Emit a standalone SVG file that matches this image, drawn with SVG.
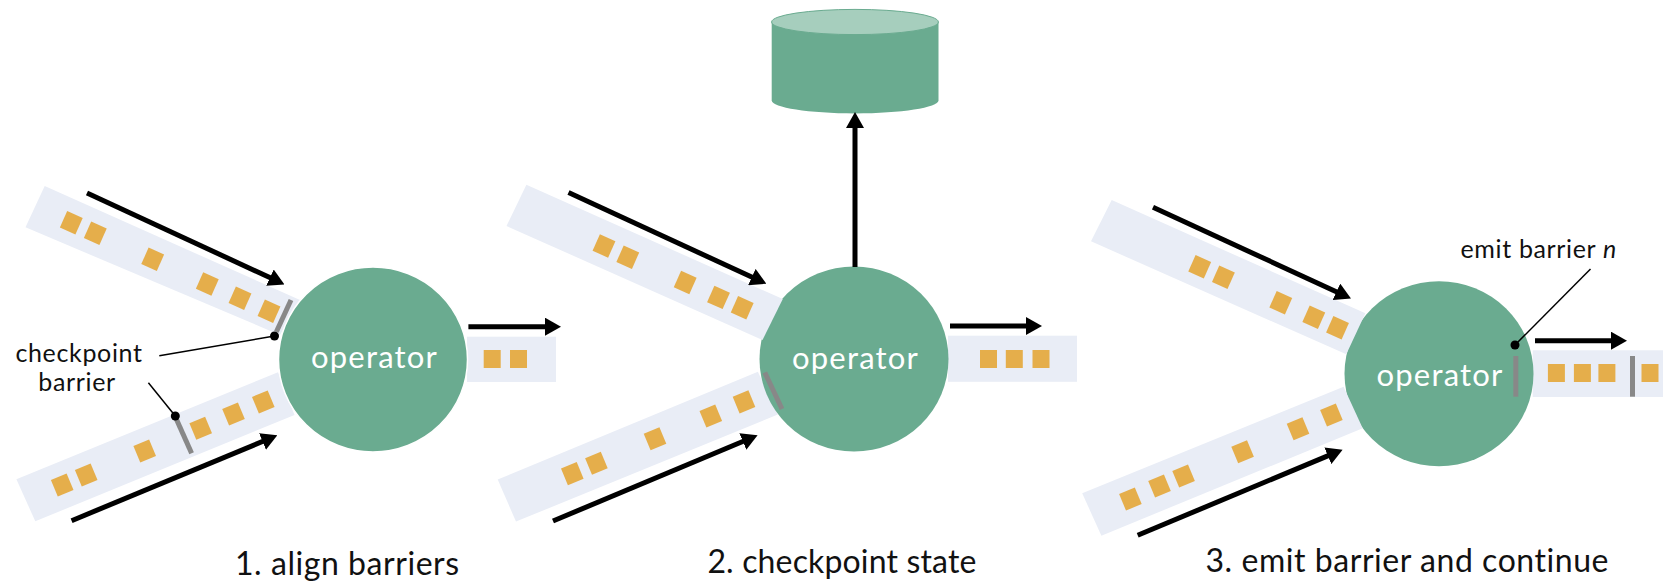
<svg xmlns="http://www.w3.org/2000/svg" width="1665" height="581" viewBox="0 0 1665 581">
<style>
text{font-family:Lato,"Open Sans","Liberation Sans",sans-serif;fill:#111}
.band{fill:#e9edf6}
.sq{fill:#e5ae4b}
.op{fill:#6aab90}
.halo{stroke:#fff;stroke-width:1.5}
text.optext{fill:#fff;font-size:31px;letter-spacing:1.2px;text-anchor:middle}
.title{font-size:32px;letter-spacing:.55px}
.note{font-size:25px;letter-spacing:.65px}
.bar{stroke:#888;stroke-width:5;fill:none}
.lead{stroke:#000;stroke-width:1.5;fill:none}
.arrow{stroke:#000;stroke-width:5;fill:none;marker-end:url(#head)}
</style>
<defs>
<marker id="head" markerUnits="userSpaceOnUse" markerWidth="16" markerHeight="18" refX="7" refY="9" orient="auto"><path d="M0 0L16 9L0 18z" fill="#000"/></marker>
<rect id="s" class="sq" x="-8.5" y="-9" width="17" height="18"/>
</defs>
<g id="streams-under">
<polygon class="band" points="44.7,186 300,300 280,335 25.5,227.3"/>
<polygon class="band" points="16.4,479.3 278,372.3 294.5,415 35.3,521.3"/>
<rect class="band" x="467" y="336.7" width="89" height="45.3"/>
<polygon class="band" points="497.7,479.5 757.9,371.7 777.8,414.5 516,521.6"/>
<rect class="band" x="948" y="335.7" width="129" height="46.1"/>
<rect class="band" x="1532.7" y="350.3" width="130.3" height="46.7"/>
</g>
<g id="operator-1"><ellipse class="op halo" cx="373" cy="359.5" rx="94.5" ry="92.5"/><text class="optext" x="374.5" y="368.3">operator</text></g>
<g id="operator-2"><ellipse class="op" cx="854" cy="359" rx="94.5" ry="92.5"/><text class="optext" x="855.5" y="369">operator</text></g>
<g id="operator-3"><ellipse class="op" cx="1439" cy="373.7" rx="94.5" ry="92.5"/><text class="optext" x="1440" y="386">operator</text></g>
<g id="streams-over">
<polygon class="band" points="526.4,184.8 782.8,299 762.5,340 506.5,226"/>
<polygon class="band" points="1111.7,200 1365.4,313.3 1346.3,354.3 1091,241.3"/>
<polygon class="band" points="1082.2,493.3 1343.6,386.7 1362.7,428.3 1101.4,535.7"/>
</g>
<g id="records">
<use href="#s" transform="translate(71.3 222.7) rotate(24)"/><use href="#s" transform="translate(95.3 233.3) rotate(24)"/><use href="#s" transform="translate(152.7 259.3) rotate(24)"/><use href="#s" transform="translate(207.3 284) rotate(24)"/><use href="#s" transform="translate(240 298.3) rotate(24)"/><use href="#s" transform="translate(269 311.3) rotate(24)"/>
<use href="#s" transform="translate(62.2 485) rotate(-22.5)"/><use href="#s" transform="translate(86.2 475) rotate(-22.5)"/><use href="#s" transform="translate(144.7 451) rotate(-22.5)"/><use href="#s" transform="translate(200.7 428.3) rotate(-22.5)"/><use href="#s" transform="translate(233.5 414) rotate(-22.5)"/><use href="#s" transform="translate(263.3 402) rotate(-22.5)"/>
<use href="#s" transform="translate(492.2 359)"/><use href="#s" transform="translate(518.5 359)"/>
<use href="#s" transform="translate(604 246) rotate(24)"/><use href="#s" transform="translate(627.8 257.2) rotate(24)"/><use href="#s" transform="translate(685.2 282.5) rotate(24)"/><use href="#s" transform="translate(718.5 297.4) rotate(24)"/><use href="#s" transform="translate(742.2 307.8) rotate(24)"/>
<use href="#s" transform="translate(572.3 473.6) rotate(-22.5)"/><use href="#s" transform="translate(596.4 463.2) rotate(-22.5)"/><use href="#s" transform="translate(655 438.7) rotate(-22.5)"/><use href="#s" transform="translate(710.8 416) rotate(-22.5)"/><use href="#s" transform="translate(744 401.9) rotate(-22.5)"/>
<use href="#s" transform="translate(988.5 359)"/><use href="#s" transform="translate(1014.3 359)"/><use href="#s" transform="translate(1041 359)"/>
<use href="#s" transform="translate(1199.7 266.7) rotate(24)"/><use href="#s" transform="translate(1223.4 277.3) rotate(24)"/><use href="#s" transform="translate(1280.8 302.7) rotate(24)"/><use href="#s" transform="translate(1313.8 317.3) rotate(24)"/><use href="#s" transform="translate(1337.5 327.7) rotate(24)"/>
<use href="#s" transform="translate(1130.4 499) rotate(-22.5)"/><use href="#s" transform="translate(1159.5 486) rotate(-22.5)"/><use href="#s" transform="translate(1183.6 476) rotate(-22.5)"/><use href="#s" transform="translate(1242.6 451.7) rotate(-22.5)"/><use href="#s" transform="translate(1298 428.7) rotate(-22.5)"/><use href="#s" transform="translate(1331.4 415) rotate(-22.5)"/>
<use href="#s" transform="translate(1556.4 373)"/><use href="#s" transform="translate(1582.4 373)"/><use href="#s" transform="translate(1606.9 373)"/><use href="#s" transform="translate(1650 373)"/>
</g>
<g id="state-store">
<path d="M771.7 22V100.5C771.7 107.5 809 113.4 855 113.4S938.5 107.5 938.5 100.5V22z" fill="#6aab90"/>
<ellipse cx="855" cy="22" rx="83.4" ry="12.6" fill="#a6cebd" stroke="#6aab90" stroke-width="1"/>
</g>
<g id="barriers">
<line class="bar" x1="291" y1="300" x2="276.4" y2="331.7"/>
<line class="bar" x1="175.3" y1="416.7" x2="191.6" y2="453.3"/>
<line class="bar" x1="764.8" y1="372.5" x2="782" y2="409"/>
<line class="bar" x1="1515.8" y1="356" x2="1515.8" y2="396.7"/>
<line class="bar" x1="1632.5" y1="356" x2="1632.5" y2="396.7"/>
</g>
<g id="connectors">
<line class="arrow" x1="87" y1="193" x2="276.3" y2="280.6"/>
<line class="arrow" x1="71.6" y1="520.7" x2="269" y2="438.8"/>
<line class="arrow" x1="468.4" y1="326.7" x2="552" y2="326.7"/>
<line class="arrow" x1="568.5" y1="192.6" x2="758.2" y2="280"/>
<line class="arrow" x1="553" y1="521" x2="749.3" y2="438.8"/>
<line class="arrow" x1="950" y1="326" x2="1033" y2="326"/>
<line class="arrow" x1="855" y1="267" x2="855" y2="121"/>
<line class="arrow" x1="1153" y1="207.3" x2="1342.8" y2="294.7"/>
<line class="arrow" x1="1137.7" y1="535.3" x2="1334.3" y2="453.1"/>
<line class="arrow" x1="1535" y1="340.7" x2="1618" y2="340.7"/>
<line class="lead" x1="159.3" y1="355.7" x2="274.5" y2="336"/>
<line class="lead" x1="148.4" y1="382.7" x2="175.3" y2="416"/>
<line class="lead" x1="1590.5" y1="269" x2="1515" y2="345"/>
<circle cx="274.5" cy="336" r="4.5"/><circle cx="175.3" cy="416" r="4.5"/><circle cx="1515" cy="345" r="4.5"/>
</g>
<g id="labels">
<text class="note" x="79" y="361.7" text-anchor="middle">checkpoint</text>
<text class="note" x="77" y="390.7" text-anchor="middle">barrier</text>
<text class="note" x="1460.5" y="258">emit barrier <tspan font-style="italic">n</tspan></text>
<text class="title" x="235" y="575">1. align barriers</text>
<text class="title" x="707.4" y="573" style="letter-spacing:.15px">2. checkpoint state</text>
<text class="title" x="1205.5" y="571.5">3. emit barrier and continue</text>
</g>
</svg>
